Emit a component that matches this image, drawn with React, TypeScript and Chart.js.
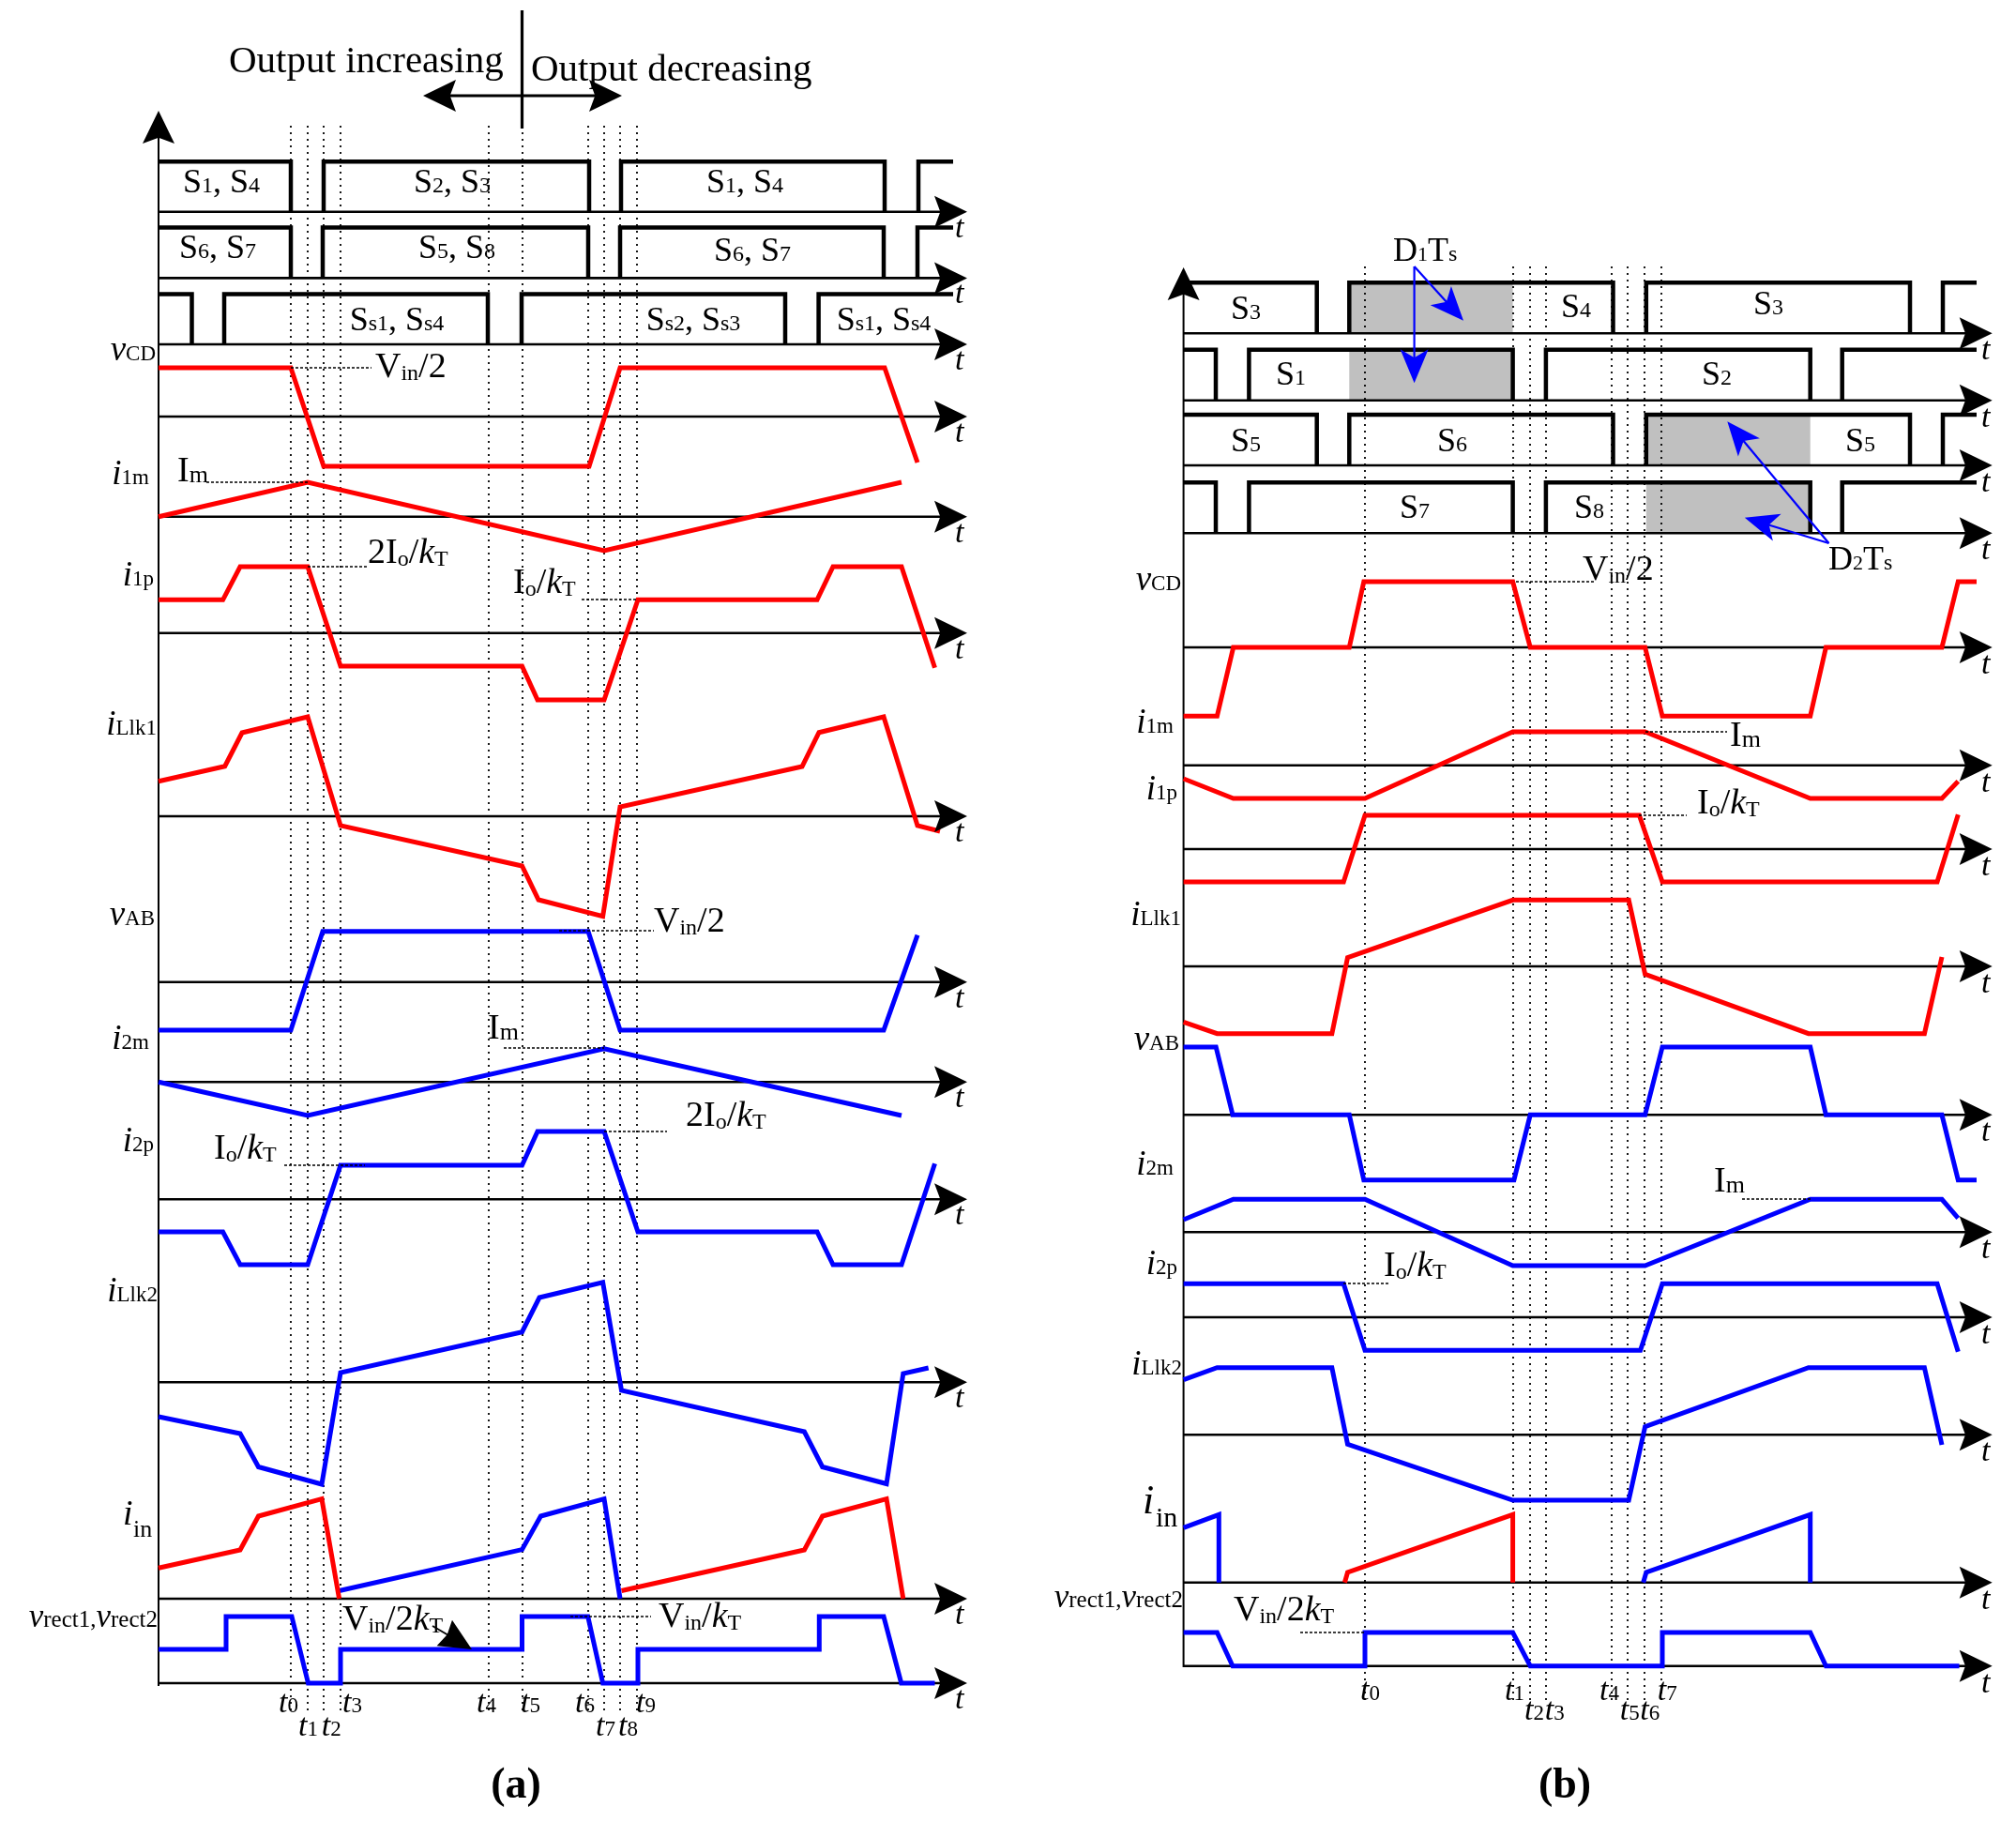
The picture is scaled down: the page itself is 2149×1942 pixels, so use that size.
import { useEffect, useRef } from 'react';
import { Chart, registerables } from 'chart.js';
Chart.register(...registerables);

const W = 2149;
const H = 1942;
const RED = '#ff0000';
const BLUE = '#0000ff';
const BLACK = '#000000';
const GRAY = '#c0c0c0';
const FONT = '"Liberation Serif", "Times New Roman", "DejaVu Serif", serif';

type P = [number, number];

// ---------- Panel (a) ----------
const axisXA = 169;
const tipXA = 1031;
const instantsA = [310, 328, 345, 363, 521, 557, 627, 644, 661, 679];
const tickLabelsA = ['0', '1', '2', '3', '4', '5', '6', '7', '8', '9'];
const tickPosA: P[] = [[297, 1825], [318, 1850], [342.7, 1850], [365, 1825], [508, 1825], [555, 1825], [613, 1825], [635, 1850], [659, 1850], [678, 1825]];
const axesA = [225.7, 296.4, 367, 444, 550.7, 674.7, 870, 1046.7, 1153.3, 1278.3, 1473.3, 1704, 1794];

const gateA1: P[] = [[169, 53.5], [310, 53.5], [310, 0], [345, 0], [345, 53.5], [628, 53.5], [628, 0], [662, 0], [662, 53.5], [943, 53.5], [943, 0], [979, 0], [979, 53.5], [1016, 53.5]];
const gateA2: P[] = [[169, 54], [310, 54], [310, 0], [344, 0], [344, 54], [627, 54], [627, 0], [661, 0], [661, 54], [942, 54], [942, 0], [978, 0], [978, 54], [1016, 54]];
const gateA3: P[] = [[169, 53.5], [204.5, 53.5], [204.5, 0], [239, 0], [239, 53.5], [520, 53.5], [520, 0], [556, 0], [556, 53.5], [837, 53.5], [837, 0], [872.6, 0], [872.6, 53.5], [1016, 53.5]];
const vcdA: P[] = [[169, 52], [310, 52], [345, -53], [628, -53], [661, 52], [943, 52], [978, -49]];
const i1mA: P[] = [[169, 0], [328, 36.7], [644, -36.3], [961, 36.7]];
const i1pA: P[] = [[169, 35.4], [237.6, 35.4], [256, 70.7], [328, 70.7], [363, -35.3], [556.5, -35.3], [573, -71.3], [644, -71.3], [680, 35.4], [871, 35.4], [888, 70.7], [961, 70.7], [996.5, -37]];
const iLlk1A: P[] = [[169, 37.3], [239.7, 53.3], [258, 89], [328, 106], [363, -10], [556.5, -53], [574, -89], [642.6, -106.7], [661, 10], [855, 53], [873, 89.3], [942, 106], [978, -10], [1002, -16]];
const vabA: P[] = [[169, -51.3], [310, -51.3], [344, 54], [627, 54], [661, -51.3], [942, -51.3], [978, 50]];
const i2mA: P[] = [[169, 0], [328, -35.7], [644, 35.6], [961, -35.7]];
const i2pA: P[] = [[169, -34.7], [237.6, -34.7], [256, -69.7], [328, -69.7], [363, 36.3], [556.5, 36.3], [573, 72.3], [644, 72.3], [680, -34.7], [871, -34.7], [888, -69.7], [961, -69.7], [996.5, 38]];
const iLlk2A: P[] = [[169, -36.7], [256, -54.7], [275.5, -90.2], [343, -108.7], [363, 10.3], [556.5, 53.6], [575, 90.3], [642.6, 106.6], [662.5, -8.7], [857.4, -52.7], [876.7, -90.2], [945, -108.2], [962.8, 9.3], [989.7, 15.3]];
const iinA1: P[] = [[169, 32.7], [256, 52], [275.5, 88], [343, 106.3], [361.6, 0]];
const iinA2: P[] = [[361.6, 8.5], [556.5, 52.4], [576.4, 88], [644, 106.3], [661, 0]];
const iinA3: P[] = [[662.5, 8.5], [857.4, 52], [876.7, 88], [945, 106.3], [962.8, 0]];
const vrectA: P[] = [[169, 36], [241, 36], [241, 71], [311, 71], [328.5, 0], [363, 0], [363, 36], [556.5, 36], [556.5, 71], [626.7, 71], [642.6, 0], [680, 0], [680, 36], [873.3, 36], [873.3, 71], [942, 71], [960.7, 0], [996.5, 0]];

// ---------- Panel (b) ----------
const axisXB = 1261.6;
const tipXB = 2123.7;
const instantsB = [1455, 1613, 1631, 1648, 1718, 1735, 1753, 1771];
const tickLabelsB = ['0', '1', '2', '3', '4', '5', '6', '7'];
const tickPosB: P[] = [[1450, 1811.7], [1604, 1811.7], [1625, 1833], [1646.7, 1833], [1705, 1811.7], [1726.7, 1833], [1748.3, 1833], [1766.7, 1811.7]];
const axesB = [355.3, 426.7, 496, 568.3, 690, 815.7, 905, 1030, 1188.3, 1313.3, 1404, 1529.3, 1686.7, 1775.7];

const gateB1: P[] = [[1261.6, 54], [1403.7, 54], [1403.7, 0], [1438.3, 0], [1438.3, 54], [1719.5, 54], [1719.5, 0], [1754.8, 0], [1754.8, 54], [2036, 54], [2036, 0], [2071, 0], [2071, 54], [2107, 54]];
const gateB2: P[] = [[1261.6, 54], [1296, 54], [1296, 0], [1331.4, 0], [1331.4, 54], [1612.6, 54], [1612.6, 0], [1647.9, 0], [1647.9, 54], [1929.7, 54], [1929.7, 0], [1963.7, 0], [1963.7, 54], [2107, 54]];
const shadeB: [number, number, number][] = [[1438.3, 1612.6, 0], [1438.3, 1612.6, 1], [1754.8, 1929.7, 2], [1754.8, 1929.7, 3]];
const vcdB: P[] = [[1261.6, -73.3], [1297.4, -73.3], [1314.7, 0], [1438.3, 0], [1453.8, 70], [1612.6, 70], [1631.2, 0], [1753.6, 0], [1772, -73.3], [1929.7, -73.3], [1946.4, 0], [2070, 0], [2087.3, 70], [2107, 70]];
const i1mB: P[] = [[1261.6, -14.3], [1314.7, -35.3], [1455, -35.3], [1612.6, 35.7], [1753.6, 35.7], [1929.7, -35.3], [2070, -35.3], [2087.3, -17]];
const i1pB: P[] = [[1261.6, -35], [1432.2, -35], [1455, 36], [1747.4, 36], [1772, -35], [2065, -35], [2087.3, 36.7]];
const iLlk1B: P[] = [[1261.6, -59.3], [1297.4, -71.7], [1419.8, -71.7], [1436.5, 9.3], [1612.6, 70.7], [1736.2, 70.7], [1753.6, -8.3], [1927.8, -71.7], [2051.4, -71.7], [2070, 10]];
const vabB: P[] = [[1261.6, 72.3], [1296.2, 72.3], [1314, 0], [1438.3, 0], [1453.8, -69.4], [1613.9, -69.4], [1631.2, 0], [1753.6, 0], [1772, 72.3], [1929.7, 72.3], [1946.4, 0], [2070, 0], [2087.3, -69.4], [2107, -69.4]];
const i2mB: P[] = [[1261.6, 13.3], [1314.7, 35], [1455, 35], [1612.6, -35.7], [1753.6, -35.7], [1929.7, 35], [2070, 35], [2087.3, 15]];
const i2pB: P[] = [[1261.6, 35.7], [1432.2, 35.7], [1455, -35.3], [1748.6, -35.3], [1772, 35.7], [2065, 35.7], [2087.3, -36.7]];
const iLlk2B: P[] = [[1261.6, 58.6], [1297.4, 71.6], [1419.8, 71.6], [1436.5, -10], [1612.6, -69.7], [1736.2, -69.7], [1753.6, 8.6], [1927.8, 71.6], [2051.4, 71.6], [2070, -10.7]];
const iinB1: P[] = [[1261.6, 58.4], [1299.3, 72.4], [1299.3, 0]];
const iinB2: P[] = [[1433.4, 0], [1436.5, 10.7], [1612.6, 72.4], [1612.6, 0]];
const iinB3: P[] = [[1751.7, 0], [1754.8, 10.7], [1929.7, 72.4], [1929.7, 0]];
const vrectB: P[] = [[1261.6, 35.7], [1297.4, 35.7], [1314, 0], [1455, 0], [1455, 35.7], [1612.6, 35.7], [1631.2, 0], [1772, 0], [1772, 35.7], [1929.7, 35.7], [1946.4, 0], [2088.5, 0]];

type Series = { pts: P[]; axis: number; color: string; gate?: boolean };
const seriesList: Series[] = [
  { pts: gateA1, axis: axesA[0], color: BLACK, gate: true },
  { pts: gateA2, axis: axesA[1], color: BLACK, gate: true },
  { pts: gateA3, axis: axesA[2], color: BLACK, gate: true },
  { pts: vcdA, axis: axesA[3], color: RED },
  { pts: i1mA, axis: axesA[4], color: RED },
  { pts: i1pA, axis: axesA[5], color: RED },
  { pts: iLlk1A, axis: axesA[6], color: RED },
  { pts: vabA, axis: axesA[7], color: BLUE },
  { pts: i2mA, axis: axesA[8], color: BLUE },
  { pts: i2pA, axis: axesA[9], color: BLUE },
  { pts: iLlk2A, axis: axesA[10], color: BLUE },
  { pts: iinA1, axis: axesA[11], color: RED },
  { pts: iinA2, axis: axesA[11], color: BLUE },
  { pts: iinA3, axis: axesA[11], color: RED },
  { pts: vrectA, axis: axesA[12], color: BLUE },
  { pts: gateB1, axis: axesB[0], color: BLACK, gate: true },
  { pts: gateB2, axis: axesB[1], color: BLACK, gate: true },
  { pts: gateB1, axis: axesB[2], color: BLACK, gate: true },
  { pts: gateB2, axis: axesB[3], color: BLACK, gate: true },
  { pts: vcdB, axis: axesB[4], color: RED },
  { pts: i1mB, axis: axesB[5], color: RED },
  { pts: i1pB, axis: axesB[6], color: RED },
  { pts: iLlk1B, axis: axesB[7], color: RED },
  { pts: vabB, axis: axesB[8], color: BLUE },
  { pts: i2mB, axis: axesB[9], color: BLUE },
  { pts: i2pB, axis: axesB[10], color: BLUE },
  { pts: iLlk2B, axis: axesB[11], color: BLUE },
  { pts: iinB1, axis: axesB[12], color: BLUE },
  { pts: iinB2, axis: axesB[12], color: RED },
  { pts: iinB3, axis: axesB[12], color: BLUE },
  { pts: vrectB, axis: axesB[13], color: BLUE },
];

// ---------- Text ----------
type Seg = { s: string; z: number; it?: boolean; b?: boolean; dy?: number };
type Lbl = { segs: Seg[]; x: number; y: number; al: 'left' | 'center' | 'right' };
const sig = (m: string, sub: string): Seg[] => [{ s: m, z: 37, it: true }, { s: sub, z: 23 }];
const vrectSegs: Seg[] = [{ s: 'v', z: 35, it: true }, { s: 'rect1', z: 25 }, { s: ',', z: 25 }, { s: 'v', z: 35, it: true }, { s: 'rect2', z: 25 }];
const sw = (a: string, b: string, c: string, d: string): Seg[] => [{ s: a, z: 36 }, { s: b, z: 24 }, { s: ', ', z: 36 }, { s: c, z: 36 }, { s: d, z: 24 }];
const sOne = (d: string): Seg[] => [{ s: 'S', z: 36 }, { s: d, z: 24 }];
const vin2: Seg[] = [{ s: 'V', z: 38 }, { s: 'in', z: 24, dy: 3 }, { s: '/2', z: 38 }];
const ioKt: Seg[] = [{ s: 'I', z: 38 }, { s: 'o', z: 24, dy: 3 }, { s: '/', z: 38 }, { s: 'k', z: 38, it: true }, { s: 'T', z: 24, dy: 3 }];
const io2Kt: Seg[] = [{ s: '2I', z: 38 }, { s: 'o', z: 24, dy: 3 }, { s: '/', z: 38 }, { s: 'k', z: 38, it: true }, { s: 'T', z: 24, dy: 3 }];
const imSeg: Seg[] = [{ s: 'I', z: 38 }, { s: 'm', z: 26, dy: 1 }];
const vin2kt: Seg[] = [{ s: 'V', z: 38 }, { s: 'in', z: 24, dy: 3 }, { s: '/2', z: 38 }, { s: 'k', z: 38, it: true }, { s: 'T', z: 24, dy: 3 }];
const vinKt: Seg[] = [{ s: 'V', z: 38 }, { s: 'in', z: 24, dy: 3 }, { s: '/', z: 38 }, { s: 'k', z: 38, it: true }, { s: 'T', z: 24, dy: 3 }];

const labels: Lbl[] = [
  { segs: [{ s: 'Output increasing', z: 41 }], x: 244, y: 77, al: 'left' },
  { segs: [{ s: 'Output decreasing', z: 41 }], x: 566, y: 86, al: 'left' },
  { segs: sw('S', '1', 'S', '4'), x: 236, y: 205, al: 'center' },
  { segs: sw('S', '2', 'S', '3'), x: 482, y: 205, al: 'center' },
  { segs: sw('S', '1', 'S', '4'), x: 794, y: 205, al: 'center' },
  { segs: sw('S', '6', 'S', '7'), x: 232, y: 275, al: 'center' },
  { segs: sw('S', '5', 'S', '8'), x: 487, y: 275, al: 'center' },
  { segs: sw('S', '6', 'S', '7'), x: 802, y: 278, al: 'center' },
  { segs: sw('S', 's1', 'S', 's4'), x: 423, y: 352, al: 'center' },
  { segs: sw('S', 's2', 'S', 's3'), x: 739, y: 352, al: 'center' },
  { segs: sw('S', 's1', 'S', 's4'), x: 942, y: 352, al: 'center' },
  { segs: sig('v', 'CD'), x: 166, y: 384, al: 'right' },
  { segs: sig('i', '1m'), x: 159, y: 516, al: 'right' },
  { segs: sig('i', '1p'), x: 164, y: 624, al: 'right' },
  { segs: sig('i', 'Llk1'), x: 167, y: 783, al: 'right' },
  { segs: sig('v', 'AB'), x: 165, y: 986, al: 'right' },
  { segs: sig('i', '2m'), x: 159, y: 1118, al: 'right' },
  { segs: sig('i', '2p'), x: 164, y: 1227, al: 'right' },
  { segs: sig('i', 'Llk2'), x: 168, y: 1387, al: 'right' },
  { segs: [{ s: 'i', z: 38, it: true }], x: 131, y: 1625, al: 'left' },
  { segs: [{ s: 'in', z: 26 }], x: 142, y: 1638, al: 'left' },
  { segs: vrectSegs, x: 168, y: 1734, al: 'right' },
  { segs: vin2, x: 400, y: 402, al: 'left' },
  { segs: imSeg, x: 189, y: 513, al: 'left' },
  { segs: io2Kt, x: 392, y: 600, al: 'left' },
  { segs: ioKt, x: 547, y: 632, al: 'left' },
  { segs: vin2, x: 697, y: 993, al: 'left' },
  { segs: imSeg, x: 520, y: 1107, al: 'left' },
  { segs: ioKt, x: 228, y: 1235, al: 'left' },
  { segs: io2Kt, x: 731, y: 1200, al: 'left' },
  { segs: vin2kt, x: 365, y: 1737, al: 'left' },
  { segs: vinKt, x: 702, y: 1734, al: 'left' },
  { segs: [{ s: '(a)', z: 46, b: true }], x: 550, y: 1916, al: 'center' },
  // panel b
  { segs: sOne('3'), x: 1328, y: 340, al: 'center' },
  { segs: sOne('4'), x: 1680, y: 338, al: 'center' },
  { segs: sOne('3'), x: 1885, y: 335, al: 'center' },
  { segs: sOne('1'), x: 1376, y: 410, al: 'center' },
  { segs: sOne('2'), x: 1830, y: 410, al: 'center' },
  { segs: sOne('5'), x: 1328, y: 481, al: 'center' },
  { segs: sOne('6'), x: 1548, y: 481, al: 'center' },
  { segs: sOne('5'), x: 1983, y: 481, al: 'center' },
  { segs: sOne('7'), x: 1508, y: 552, al: 'center' },
  { segs: sOne('8'), x: 1694, y: 552, al: 'center' },
  { segs: [{ s: 'D', z: 36 }, { s: '1', z: 22 }, { s: 'T', z: 36 }, { s: 's', z: 24 }], x: 1485, y: 278, al: 'left' },
  { segs: [{ s: 'D', z: 36 }, { s: '2', z: 22 }, { s: 'T', z: 36 }, { s: 's', z: 24 }], x: 1949, y: 607, al: 'left' },
  { segs: sig('v', 'CD'), x: 1259, y: 629, al: 'right' },
  { segs: sig('i', '1m'), x: 1251, y: 781, al: 'right' },
  { segs: sig('i', '1p'), x: 1255, y: 852, al: 'right' },
  { segs: sig('i', 'Llk1'), x: 1259, y: 986, al: 'right' },
  { segs: sig('v', 'AB'), x: 1257, y: 1119, al: 'right' },
  { segs: sig('i', '2m'), x: 1251, y: 1252, al: 'right' },
  { segs: sig('i', '2p'), x: 1255, y: 1358, al: 'right' },
  { segs: sig('i', 'Llk2'), x: 1260, y: 1465, al: 'right' },
  { segs: [{ s: 'i', z: 44, it: true }], x: 1218, y: 1613, al: 'left' },
  { segs: [{ s: 'in', z: 30 }], x: 1232, y: 1627, al: 'left' },
  { segs: vrectSegs, x: 1261, y: 1713, al: 'right' },
  { segs: vin2, x: 1687, y: 618, al: 'left' },
  { segs: imSeg, x: 1844, y: 795, al: 'left' },
  { segs: ioKt, x: 1809, y: 867, al: 'left' },
  { segs: imSeg, x: 1827, y: 1270, al: 'left' },
  { segs: ioKt, x: 1475, y: 1360, al: 'left' },
  { segs: vin2kt, x: 1315, y: 1727, al: 'left' },
  { segs: [{ s: '(b)', z: 46, b: true }], x: 1668, y: 1916, al: 'center' },
];

// dotted leader lines [x0, x1, y]
const leaders: [number, number, number][] = [
  [310, 396, 392], [220, 328, 514], [328, 392, 604], [620, 680, 639], [596, 697, 992],
  [537, 644, 1117], [303, 389, 1242], [644, 711, 1206], [608, 694, 1723],
  [1616, 1699, 620], [1754, 1841, 780], [1747, 1798, 869], [1857, 1930, 1278], [1432, 1480, 1368], [1386, 1455, 1740],
];

// blue annotation arrows [fromX, fromY, toX, toY]
const blueArrows: [number, number, number, number][] = [
  [1507.6, 284, 1560, 341.7], [1507.6, 284, 1507.6, 408.3], [1949.5, 579, 1841.3, 449.3], [1949.5, 579, 1859.8, 551.7],
];

const fontOf = (g: Seg) => `${g.it ? 'italic ' : ''}${g.b ? 'bold ' : ''}${g.z}px ${FONT}`;

function drawRich(ctx: CanvasRenderingContext2D, segs: Seg[], x: number, y: number, al: string) {
  let w = 0;
  for (const g of segs) { ctx.font = fontOf(g); w += ctx.measureText(g.s).width; }
  let cx = al === 'left' ? x : al === 'center' ? x - w / 2 : x - w;
  ctx.textBaseline = 'alphabetic';
  ctx.textAlign = 'left';
  for (const g of segs) {
    ctx.font = fontOf(g);
    ctx.fillText(g.s, cx, y + (g.dy || 0));
    cx += ctx.measureText(g.s).width;
  }
}

function head(ctx: CanvasRenderingContext2D, fx: number, fy: number, tx: number, ty: number, len: number, half: number, notch = 0.82) {
  const d = Math.hypot(tx - fx, ty - fy) || 1;
  const ux = (tx - fx) / d, uy = (ty - fy) / d;
  const nx = -uy, ny = ux;
  const bx = tx - ux * len, by = ty - uy * len;
  ctx.beginPath();
  ctx.moveTo(tx, ty);
  ctx.lineTo(bx + nx * half, by + ny * half);
  ctx.lineTo(tx - ux * len * notch, ty - uy * len * notch);
  ctx.lineTo(bx - nx * half, by - ny * half);
  ctx.closePath();
  ctx.fill();
}

function toData(pts: P[], axis: number, gate?: boolean) {
  const out: { x: number; y: number | null }[] = [];
  pts.forEach(([x, v], i) => {
    if (gate && i > 0 && v === 0 && pts[i - 1][1] === 0) out.push({ x: (x + pts[i - 1][0]) / 2, y: null });
    out.push({ x, y: axis - v });
  });
  return out;
}

export default function App() {
  const ref = useRef<HTMLCanvasElement | null>(null);
  useEffect(() => {
    document.body.style.margin = '0';
    const canvas = ref.current;
    if (!canvas) return;
    const datasets: any[] = [];
    const line = (data: any[], color: string, width: number, order: number, dash: number[] = []) => datasets.push({
      data, showLine: true, borderColor: color, borderWidth: width, pointRadius: 0, fill: false, tension: 0,
      borderDash: dash, borderJoinStyle: 'miter', borderCapStyle: 'butt', order, spanGaps: false,
    });
    // dotted time guides
    instantsA.forEach((t) => line([{ x: t, y: 134 }, { x: t, y: 1826 }], BLACK, 1.8, 5, [2, 5]));
    instantsB.forEach((t) => line([{ x: t, y: 284 }, { x: t, y: 1812 }], BLACK, 1.8, 5, [2, 5]));
    // time axes
    axesA.forEach((a) => line([{ x: axisXA, y: a }, { x: tipXA - 20, y: a }], BLACK, 2.6, 4));
    axesB.forEach((a) => line([{ x: axisXB, y: a }, { x: tipXB - 20, y: a }], BLACK, 2.6, 4));
    // vertical axes
    line([{ x: axisXA, y: 1797 }, { x: axisXA, y: 140 }], BLACK, 2, 4);
    line([{ x: axisXB, y: 1777 }, { x: axisXB, y: 305 }], BLACK, 2, 4);
    // waveforms
    seriesList.forEach((s) => line(toData(s.pts, s.axis, s.gate), s.color, s.gate ? 4.5 : 5, 1));
    // top double arrow & divider
    line([{ x: 470, y: 102 }, { x: 645, y: 102 }], BLACK, 3, 2);
    line([{ x: 556.5, y: 11 }, { x: 556.5, y: 137 }], BLACK, 3.2, 2);

    const plugin = {
      id: 'annot',
      beforeDatasetsDraw(chart: any) {
        const ctx: CanvasRenderingContext2D = chart.ctx;
        const X = (v: number) => chart.scales.x.getPixelForValue(v);
        const Y = (v: number) => chart.scales.y.getPixelForValue(v);
        ctx.save();
        ctx.fillStyle = GRAY;
        shadeB.forEach(([x0, x1, r]) => {
          const a = axesB[r];
          ctx.fillRect(X(x0), Y(a - 54), X(x1) - X(x0), Y(a) - Y(a - 54));
        });
        ctx.restore();
      },
      afterDatasetsDraw(chart: any) {
        const ctx: CanvasRenderingContext2D = chart.ctx;
        const X = (v: number) => chart.scales.x.getPixelForValue(v);
        const Y = (v: number) => chart.scales.y.getPixelForValue(v);
        ctx.save();
        ctx.fillStyle = BLACK;
        // axis arrowheads
        axesA.forEach((a) => head(ctx, X(tipXA - 40), Y(a), X(tipXA), Y(a), 35, 17));
        axesB.forEach((a) => head(ctx, X(tipXB - 40), Y(a), X(tipXB), Y(a), 35, 17));
        head(ctx, X(axisXA), Y(200), X(axisXA), Y(118), 35, 17);
        head(ctx, X(axisXB), Y(380), X(axisXB), Y(285), 35, 17);
        // top double arrow heads
        head(ctx, X(556), Y(102), X(451), Y(102), 35, 17);
        head(ctx, X(556), Y(102), X(663), Y(102), 35, 17);
        // 't' labels on axes
        ctx.font = `italic 34px ${FONT}`;
        ctx.textAlign = 'left';
        ctx.textBaseline = 'alphabetic';
        axesA.forEach((a) => ctx.fillText('t', X(1018), Y(a + 27)));
        axesB.forEach((a) => ctx.fillText('t', X(2112), Y(a + 28)));
        // ticks
        tickPosA.forEach(([x, y], i) => drawRich(ctx, [{ s: 't', z: 34, it: true }, { s: tickLabelsA[i], z: 23 }], X(x), Y(y), 'left'));
        tickPosB.forEach(([x, y], i) => drawRich(ctx, [{ s: 't', z: 34, it: true }, { s: tickLabelsB[i], z: 23 }], X(x), Y(y), 'left'));
        // leaders
        ctx.strokeStyle = BLACK;
        ctx.lineWidth = 1.5;
        ctx.setLineDash([3, 2]);
        leaders.forEach(([x0, x1, y]) => {
          ctx.beginPath();
          ctx.moveTo(X(x0), Y(y));
          ctx.lineTo(X(x1), Y(y));
          ctx.stroke();
        });
        ctx.setLineDash([]);
        // labels
        labels.forEach((l) => drawRich(ctx, l.segs, X(l.x), Y(l.y), l.al));
        // vrect arrow (a)
        ctx.lineWidth = 2;
        ctx.beginPath();
        ctx.moveTo(X(461), Y(1733));
        ctx.lineTo(X(490), Y(1750));
        ctx.stroke();
        head(ctx, X(461), Y(1733), X(503), Y(1758), 34, 16, 0.9);
        // blue arrows (b)
        ctx.strokeStyle = BLUE;
        ctx.fillStyle = BLUE;
        ctx.lineWidth = 2.2;
        blueArrows.forEach(([fx, fy, tx, ty]) => {
          const d = Math.hypot(tx - fx, ty - fy);
          const ux = (tx - fx) / d, uy = (ty - fy) / d;
          ctx.beginPath();
          ctx.moveTo(X(fx), Y(fy));
          ctx.lineTo(X(tx - ux * 25), Y(ty - uy * 25));
          ctx.stroke();
          head(ctx, X(fx), Y(fy), X(tx), Y(ty), 36, 15, 0.75);
        });
        ctx.restore();
      },
    };

    const chart = new Chart(canvas, {
      type: 'scatter',
      data: { datasets },
      options: {
        animation: false,
        responsive: false,
        devicePixelRatio: 1,
        events: [],
        layout: { padding: 0 },
        plugins: { legend: { display: false }, tooltip: { enabled: false } },
        scales: {
          x: { type: 'linear', min: 0, max: W, display: false },
          y: { type: 'linear', min: 0, max: H, reverse: true, display: false },
        },
      },
      plugins: [plugin],
    } as any);
    return () => chart.destroy();
  }, []);
  return <canvas ref={ref} width={W} height={H} style={{ display: 'block' }} />;
}
